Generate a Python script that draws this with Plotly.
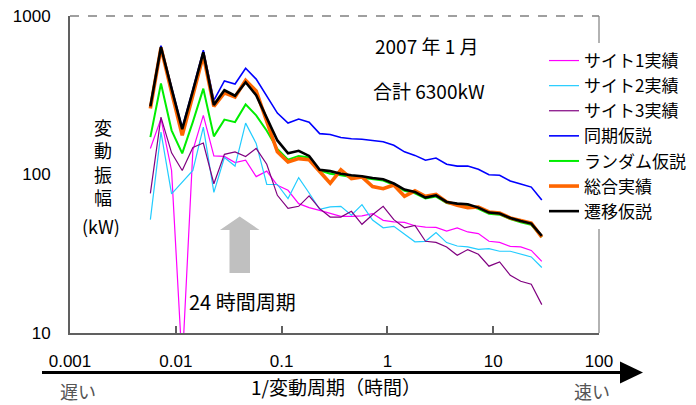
import plotly.graph_objects as go

# 1/period (1/hour)
freq = [0.00575, 0.00724, 0.00912, 0.0115, 0.0145, 0.0182, 0.0229, 0.0288, 0.0363, 0.0457,
        0.0575, 0.0724, 0.0912, 0.115, 0.145, 0.182, 0.229, 0.288, 0.363, 0.457,
        0.575, 0.724, 0.912, 1.15, 1.45, 1.82, 2.29, 2.88, 3.63, 4.57,
        5.75, 7.24, 9.12, 11.5, 14.5, 18.2, 22.9, 28.8]

site1 = [146, 225, 106, 6.3, 142, 236, 131, 130, 119, 123,
         97, 105, 85.5, 79.5, 65.5, 61.8, 59.4, 57.2, 54.5, 54.5,
         54.9, 56.7, 51.4, 50.2, 49.9, 47.5, 46.6, 46.4, 44.0, 46.0,
         43.4, 42.4, 37.9, 37.3, 35.2, 34.9, 33.2, 28.3]
site2 = [51.9, 185, 75.5, 89.3, 106, 199, 77.2, 128, 113, 211,
         157, 86.7, 86.5, 70.5, 95.6, 76.4, 60.3, 62.4, 63.0, 55.3,
         64.6, 51.6, 46.1, 47.1, 42.1, 37.6, 37.9, 43.0, 37.2, 35.4,
         34.9, 33.7, 34.1, 32.8, 32.8, 31.5, 30.2, 25.9]
site3 = [76.1, 230, 137, 106, 148, 158, 87.4, 134, 139, 130,
         146, 116, 73.9, 61.2, 63.0, 73.4, 60.9, 53.9, 53.9, 58.6,
         48.5, 55.7, 63.0, 51.9, 46.1, 47.8, 37.9, 37.3, 34.9, 30.9,
         33.6, 31.4, 26.4, 28.1, 23.1, 21.2, 20.3, 15.1]
sync_hyp = [274, 650, 355, 197, 344, 608, 294, 389, 372, 468,
            400, 314, 244, 211, 224, 214, 181, 179, 171, 168,
            167, 164, 161, 153, 139, 132, 123, 127, 116, 113,
            113, 108, 99.6, 98.9, 91, 87.1, 83.3, 69.0]
random_hyp = [172, 375, 190, 136, 215, 348, 174, 222, 214, 277,
              236, 189, 145, 124, 131, 128, 106, 101, 98.9, 96.5,
              95.5, 93, 91.5, 86, 79, 76, 70.5, 72.5, 66, 64.5,
              63.8, 60.8, 56.5, 55.8, 52.3, 50, 48.2, 40.3]
total_actual = [261, 631, 331, 177, 316, 565, 269, 327, 308, 393,
                336, 220, 139, 120, 126, 124, 105, 88, 107, 94.2,
                96.4, 83.9, 81.3, 85.9, 72.9, 78.9, 72.9, 75.0, 67.1, 63.9,
                61.8, 62.4, 58.0, 57.1, 53.2, 51.4, 49.4, 40.3]
transition_hyp = [269, 637, 348, 193, 337, 590, 275, 340, 314, 382,
                  316, 226, 164, 136, 141, 131, 107, 105, 101, 98.9,
                  97.5, 95, 93.3, 87.7, 80.3, 77.6, 71.5, 73.9, 67.1, 65.5,
                  64.9, 61.8, 57.5, 56.7, 53.2, 50.9, 49.0, 41.0]

x_ticks = [0.001, 0.01, 0.1, 1, 10, 100]
x_ticktext = ["0.001", "0.01", "0.1", "1", "10", "100"]
y_ticks = [10, 100, 1000]
y_ticktext = ["10", "100", "1000"]

series = [
    ("サイト1実績", site1, "#FF00FF", 1.2),
    ("サイト2実績", site2, "#22CCFF", 1.2),
    ("サイト3実績", site3, "#800080", 1.2),
    ("同期仮説", sync_hyp, "#0000FF", 1.6),
    ("ランダム仮説", random_hyp, "#00EE00", 2.0),
    ("総合実績", total_actual, "#FF6600", 3.6),
    ("遷移仮説", transition_hyp, "#000000", 2.6),
]

FONT = "Liberation Sans, Noto Sans CJK JP, sans-serif"
JFONT = "Noto Sans CJK JP, Liberation Sans, sans-serif"

fig = go.Figure()
for name, vals, col, w in series:
    fig.add_trace(go.Scatter(x=freq, y=vals, mode="lines", name=name,
                             line=dict(color=col, width=w)))

# page geometry: the page body has an 8px margin, so the figure sits at (8, 8)
OFF = 8
WIN_W, WIN_H = 696, 405
W, H = WIN_W - OFF, WIN_H - OFF
# plot area in window pixels
L, R, T, B = 70, 599, 16, 333


def px(x):
    return (x - L) / (R - L)


def py(y):
    return (B - y) / (B - T)


shapes = [
    # top dashed border
    dict(type="line", xref="paper", yref="paper", x0=0, x1=1, y0=1, y1=1,
         line=dict(color="#808080", width=1.5, dash="dash"), layer="below"),
    # right border
    dict(type="line", xref="paper", yref="paper", x0=1, x1=1, y0=0, y1=1,
         line=dict(color="#808080", width=1.2), layer="below"),
    # dashed 100 kW line
    dict(type="line", xref="paper", yref="y", x0=0, x1=px(532), y0=2, y1=2,
         line=dict(color="#000000", width=1.2, dash="dash"), layer="below"),
    # bottom arrow
    dict(type="line", xref="paper", yref="paper", x0=px(42), x1=px(624),
         y0=py(372.5), y1=py(372.5), line=dict(color="#000000", width=3)),
    dict(type="path", xref="paper", yref="paper",
         path=f"M {px(620)},{py(361.5)} L {px(643)},{py(372.5)} L {px(620)},{py(383.5)} Z",
         fillcolor="#000000", line=dict(color="#000000", width=0)),
    # gray 24-hour arrow
    dict(type="path", xref="paper", yref="paper",
         path=(f"M {px(239.7)},{py(216.5)} L {px(259.5)},{py(230)} L {px(250)},{py(230)} "
               f"L {px(250)},{py(273)} L {px(229.5)},{py(273)} L {px(229.5)},{py(230)} "
               f"L {px(220)},{py(230)} Z"),
         fillcolor="#C0C0C0", line=dict(color="#C0C0C0", width=0)),
]


def ann(text, x, y, size=19, color="#000000", family=JFONT):
    return dict(text=text, x=px(x), y=py(y), xref="paper", yref="paper",
                showarrow=False, xanchor="center", yanchor="middle",
                font=dict(size=size, color=color, family=family))


annotations = [
    ann("2007 年 1 月", 427, 45),
    ann("合計 6300kW", 429, 90),
    ann("24 時間周期", 242, 301, size=20),
    ann("変<br>動<br>振<br>幅", 103, 162, size=18),
    ann("(kW)", 101, 226, size=18),
    ann("1/変動周期（時間）", 336, 386),
    ann("遅い", 78, 391, size=18, color="#555555"),
    ann("速い", 592, 391, size=18, color="#555555"),
]

fig.update_layout(
    width=W, height=H,
    margin=dict(l=L - OFF, r=WIN_W - R, t=T - OFF, b=WIN_H - B, autoexpand=False),
    paper_bgcolor="white", plot_bgcolor="white",
    font=dict(family=FONT, size=17, color="#000000"),
    showlegend=True,
    legend=dict(x=px(544), y=py(43), xanchor="left", yanchor="top",
                bgcolor="white", borderwidth=0, tracegroupgap=0,
                font=dict(size=17, family=JFONT)),
    shapes=shapes,
    annotations=annotations,
    xaxis=dict(type="log", range=[-3, 2], tickvals=x_ticks, ticktext=x_ticktext,
               showgrid=False, zeroline=False, showline=True, linecolor="#606060",
               linewidth=2, ticks="inside", ticklen=7, tickcolor="#606060",
               tickwidth=1.5, ticklabelstandoff=12, automargin=False,
               ticklabeloverflow="allow",
               tickfont=dict(size=17, family=FONT)),
    yaxis=dict(type="log", range=[1, 3], tickvals=y_ticks, ticktext=y_ticktext,
               showgrid=False, zeroline=False, showline=True, linecolor="#606060",
               linewidth=2, ticks="", ticklabelstandoff=14, automargin=False,
               ticklabeloverflow="allow",
               tickfont=dict(size=17, family=FONT)),
)

fig.write_html("out.html")
